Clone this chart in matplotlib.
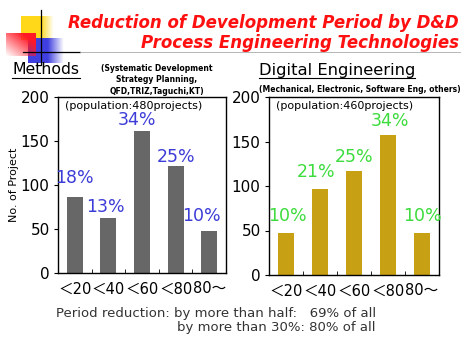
import numpy as np
import matplotlib
matplotlib.use("Agg")
from matplotlib import pyplot as plt

plt.rcParams['font.family'] = ['DejaVu Sans', 'Noto Sans CJK JP']

categories = ["＜20", "＜40", "＜60", "＜80", "80～"]
methods_counts = [86, 63, 161, 122, 48]
methods_pct = ["18%", "13%", "34%", "25%", "10%"]
digital_counts = [47, 97, 117, 157, 47]
digital_pct = ["10%", "21%", "25%", "34%", "10%"]
yticks = [0, 50, 100, 150, 200]

W, H = 477, 340
fig = plt.figure(figsize=(W / 100, H / 100), dpi=100)
fig.patch.set_facecolor("white")

# decoration layer in pixel coords
deco = fig.add_axes([0, 0, 1, 1])
deco.set_xlim(0, W)
deco.set_ylim(H, 0)
deco.axis("off")


def grad_box(x0, x1, y0, y1, rgb, fade_x=None, diag=False):
    nx, ny = 60, 40
    img = np.zeros((ny, nx, 4))
    img[..., 0], img[..., 1], img[..., 2] = rgb
    xs = np.linspace(0, 1, nx)
    ys = np.linspace(0, 1, ny)
    if diag:
        a = (xs[None, :] + (1 - ys[:, None])) / 2
        a = np.clip(a * 1.3, 0, 1)
    else:
        a = np.ones((ny, nx))
        a = a * np.clip((1 - xs[None, :]) / (1 - fade_x), 0, 1)
    img[..., 3] = a
    deco.imshow(img, extent=[x0, x1, y1, y0], aspect="auto", zorder=1)


grad_box(21, 54, 16, 40, (1.0, 0.85, 0.1), fade_x=0.6)
grad_box(28, 64, 38, 63, (0.25, 0.25, 0.88), fade_x=0.55)
grad_box(6, 36, 33, 56, (1.0, 0.1, 0.15), diag=True)
deco.plot([41, 41], [10, 65], color="black", lw=0.9, zorder=3)
deco.plot([23, 80], [52, 52], color="black", lw=0.9, zorder=3)
deco.plot([80, 460], [52, 52], color="#aaaaaa", lw=0.6, zorder=3)
deco.set_zorder(0)

fig.text(459 / W, 1 - 23 / H, "Reduction of Development Period by D&D",
         color="#ff1010", fontsize=12, fontweight="bold", style="italic",
         ha="right", va="center")
fig.text(459 / W, 1 - 43 / H, "Process Engineering Technologies",
         color="#ff1010", fontsize=12, fontweight="bold", style="italic",
         ha="right", va="center")

# panel headings
fig.text(12 / W, 1 - 70 / H, "Methods", fontsize=11.3, ha="left", va="center")
deco.plot([12, 80], [78, 78], color="black", lw=0.8)
fig.text(157 / W, 1 - 80 / H,
         "(Systematic Development\nStrategy Planning,\nQFD,TRIZ,Taguchi,KT)",
         fontsize=5.5, fontweight="bold", ha="center", va="center",
         linespacing=1.3)
fig.text(337 / W, 1 - 70 / H, "Digital Engineering", fontsize=11.8,
         ha="center", va="center")
deco.plot([259, 415], [78, 78], color="black", lw=0.8)
fig.text(360 / W, 1 - 89 / H, "(Mechanical, Electronic, Software Eng, others)",
         fontsize=5.5, fontweight="bold", ha="center", va="center")


def panel(rect, counts, pct, bar_color, lab_color, dy, dx, pop, ylabel=None):
    ax = fig.add_axes(rect)
    x = np.arange(len(categories))
    ax.bar(x, counts, width=0.48, color=bar_color, zorder=2)
    for i, (c, p) in enumerate(zip(counts, pct)):
        ax.annotate(p, (x[i], c), xytext=(dx[i] * 0.72, dy[i] * 0.72),
                    textcoords="offset points", ha="center", va="center",
                    color=lab_color, fontsize=12.5)
    ax.set_xlim(-0.5, len(categories) - 0.5)
    ax.set_ylim(0, 200)
    ax.set_yticks(yticks)
    ax.set_yticklabels([str(t) for t in yticks], fontsize=11)
    ax.set_xticks(x)
    ax.set_xticklabels(categories, fontsize=10.5)
    ax.set_xticks(x[:-1] + 0.5, minor=True)
    ax.tick_params(axis="x", which="major", length=0, pad=6)
    ax.tick_params(axis="x", which="minor", direction="in", length=3)
    ax.tick_params(axis="y", length=3, pad=3)
    for s in ax.spines.values():
        s.set_linewidth(1.0)
    ax.text(0.04, 0.95, pop, transform=ax.transAxes, fontsize=8,
            ha="left", va="center")
    if ylabel:
        ax.set_ylabel(ylabel, fontsize=8, labelpad=1)
    return ax


panel([58 / W, 67 / H, 168 / W, 176 / H], methods_counts, methods_pct,
      "#676767", "#3c3cd8", [19, 11, 11, 9, 15], [0, -3, -5, 0, -8],
      "(population:480projects)", ylabel="No. of Project")
panel([269 / W, 65 / H, 170 / W, 178 / H], digital_counts, digital_pct,
      "#c8a014", "#3cdc3c", [17, 17, 14, 14, 17], [1, -4, 0, 2, 0],
      "(population:460projects)")

fig.text(376 / W, 1 - 313 / H,
         "Period reduction: by more than half:   69% of all",
         fontsize=9.5, color="#333333", ha="right", va="center")
fig.text(376 / W, 1 - 327 / H, "by more than 30%: 80% of all",
         fontsize=9.5, color="#333333", ha="right", va="center")

fig.savefig("out.png", dpi=100)
